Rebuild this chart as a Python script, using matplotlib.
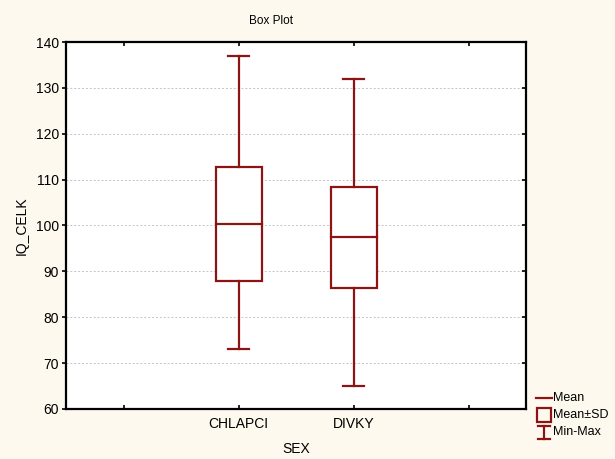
import matplotlib
matplotlib.use("Agg")
import matplotlib.pyplot as plt
from matplotlib.lines import Line2D
from matplotlib.patches import Rectangle

plt.rcParams['font.family'] = ['Liberation Sans', 'DejaVu Sans']

groups = ["CHLAPCI", "DIVKY"]
means = [100.3, 97.4]
sds = [12.4, 11.0]
mins = [73.0, 65.0]
maxs = [137.0, 132.0]

red = '#8B1414'
bg = '#FDF9EE'

fig = plt.figure(figsize=(6.15, 4.59), dpi=100, facecolor=bg)
ax = fig.add_axes([66/615, 50/459, 460/615, 367/459])
ax.set_facecolor('white')

pos = [1, 2]
bw = 0.4
cw = 0.19
for x, m, s, lo, hi in zip(pos, means, sds, mins, maxs):
    ax.add_patch(Rectangle((x - bw/2, m - s), bw, 2*s, facecolor='white',
                           edgecolor=red, lw=1.6, zorder=3))
    ax.plot([x - bw/2, x + bw/2], [m, m], color=red, lw=1.6, zorder=4)
    ax.plot([x, x], [m + s, hi], color=red, lw=1.6, zorder=3)
    ax.plot([x, x], [lo, m - s], color=red, lw=1.6, zorder=3)
    ax.plot([x - cw/2, x + cw/2], [hi, hi], color=red, lw=1.6, zorder=3)
    ax.plot([x - cw/2, x + cw/2], [lo, lo], color=red, lw=1.6, zorder=3)

ax.set_xlim(-0.5, 3.5)
ax.set_ylim(60, 140)
ax.set_xticks([0, 1, 2, 3])
ax.set_xticklabels(["", groups[0], groups[1], ""], fontsize=10)
ax.set_yticks(range(60, 141, 10))
ax.tick_params(axis='y', labelsize=10, direction='out', length=3, width=1.2,
               right=True, pad=2)
ax.tick_params(axis='x', direction='in', length=3, width=1.2, top=True, pad=6)
for t in ax.yaxis.get_major_ticks():
    t.tick2line.set_marker(matplotlib.markers.TICKLEFT)
ax.yaxis.grid(True, linestyle=(0, (2, 2)), color='#C4C4C4', lw=0.7)
for sp in ax.spines.values():
    sp.set_linewidth(1.6)

ax.set_xlabel("SEX", fontsize=10, labelpad=8)
ax.set_ylabel("IQ_CELK", fontsize=10, labelpad=5)
fig.text(271/615, 1 - 21/459, "Box Plot", fontsize=8.5, ha='center', va='center')

# legend drawn by hand at the lower right of the figure
def fx(px):
    return px / 615

def fy(py):
    return 1 - py / 459

fig.add_artist(Line2D([fx(536), fx(552)], [fy(398), fy(398)], color=red, lw=1.6))
fig.add_artist(Rectangle((fx(537), fy(422)), 14/615, 14/459, fill=False,
                         edgecolor=red, lw=1.6))
fig.add_artist(Line2D([fx(544), fx(544)], [fy(426), fy(439)], color=red, lw=1.6))
fig.add_artist(Line2D([fx(538), fx(550)], [fy(426), fy(426)], color=red, lw=1.6))
fig.add_artist(Line2D([fx(538), fx(550)], [fy(439), fy(439)], color=red, lw=1.6))
fig.text(fx(553), fy(398), "Mean", fontsize=9, va='center')
fig.text(fx(553), fy(415), "Mean±SD", fontsize=9, va='center')
fig.text(fx(553), fy(432), "Min-Max", fontsize=9, va='center')

fig.savefig("out.png", dpi=100, facecolor=bg)
